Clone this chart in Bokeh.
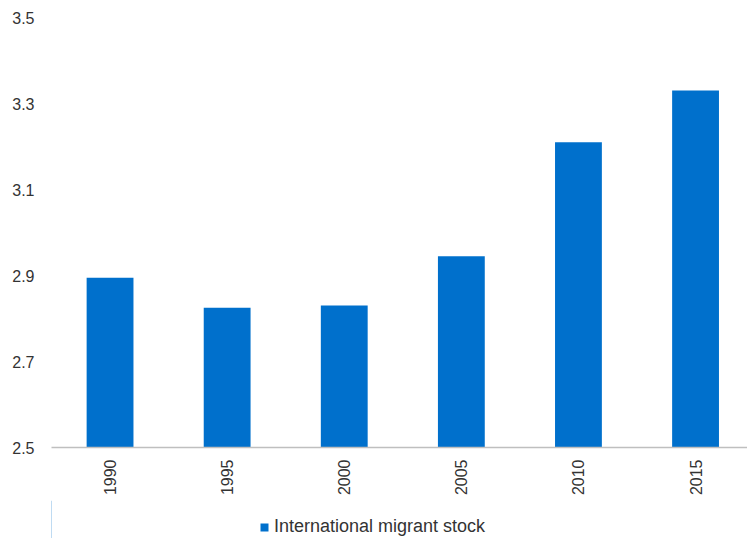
import math
from bokeh.plotting import figure
from bokeh.layouts import column
from bokeh.models import Range1d, FixedTicker, ColumnDataSource, Legend, LegendItem
from bokeh.embed import file_html
from bokeh.resources import INLINE

years = ["1990", "1995", "2000", "2005", "2010", "2015"]
values = [2.895, 2.825, 2.830, 2.945, 3.210, 3.330]
y_ticks = [2.5, 2.7, 2.9, 3.1, 3.3, 3.5]
series_name = "International migrant stock"
bar_color = "#0070CC"

xpos = [i + 0.5 for i in range(len(years))]
src = ColumnDataSource(dict(x=xpos, top=values, year=years))

W, H = 747, 500
LEG_H = 38
LEFT, TOP = 51, 17
BOTTOM = H - TOP - 430
unit = 117.1
p = figure(width=W, height=H, output_backend="svg", toolbar_location=None,
           x_range=Range1d(0, (W - LEFT) / unit), y_range=Range1d(2.5, 3.5),
           min_border_left=LEFT, min_border_right=0, min_border_top=TOP,
           min_border_bottom=BOTTOM)
p.outline_line_color = None
p.xgrid.visible = False
p.ygrid.visible = False

r = p.vbar(x="x", top="top", bottom=2.5, width=0.4, source=src,
           fill_color=bar_color, line_color=None)

font = "Liberation Sans"
p.xaxis.ticker = FixedTicker(ticks=xpos)
p.xaxis.major_label_overrides = {x: y for x, y in zip(xpos, years)}
p.xaxis.major_label_orientation = math.pi / 2
p.xaxis.major_tick_out = 0
p.xaxis.major_tick_in = 0
p.xaxis.minor_tick_out = 0
p.xaxis.minor_tick_in = 0
p.xaxis.axis_line_color = "#BFBFBF"
p.xaxis.axis_line_width = 1.5
p.xaxis.major_label_standoff = 12
p.xaxis.major_label_text_font = font
p.xaxis.major_label_text_font_size = "16px"
p.xaxis.major_label_text_color = "#333333"

p.yaxis.ticker = FixedTicker(ticks=y_ticks)
p.yaxis.axis_line_color = None
p.yaxis.major_tick_out = 0
p.yaxis.major_tick_in = 0
p.yaxis.minor_tick_out = 0
p.yaxis.minor_tick_in = 0
p.yaxis.major_label_standoff = 17
p.yaxis.major_label_text_font = font
p.yaxis.major_label_text_font_size = "16px"
p.yaxis.major_label_text_color = "#333333"

# legend strip below the chart (a helper bar kept outside the strip's view
# so that the legend has a swatch to draw)
p2 = figure(width=W, height=LEG_H, output_backend="svg", toolbar_location=None,
            x_range=Range1d(0, 1), y_range=Range1d(0, 1),
            min_border_left=0, min_border_right=0, min_border_top=0,
            min_border_bottom=0)
p2.axis.visible = False
p2.grid.visible = False
p2.outline_line_color = None
helper = ColumnDataSource(dict(x=[-5.0], top=[1.0]))
r2 = p2.vbar(x="x", top="top", width=0.4, source=helper,
             fill_color=bar_color, line_color=None)

legend = Legend(items=[LegendItem(label=series_name, renderers=[r2])],
                location=(259 - LEFT, 1), orientation="horizontal",
                glyph_width=10, glyph_height=10, label_height=10,
                label_standoff=5, padding=0, margin=0, spacing=0,
                border_line_color=None, background_fill_alpha=0,
                label_text_font=font, label_text_font_size="18px",
                label_text_color="#333333")
p2.add_layout(legend, "center")

layout = column(p, p2, spacing=0)
open("out.html", "w").write(file_html(layout, INLINE))
